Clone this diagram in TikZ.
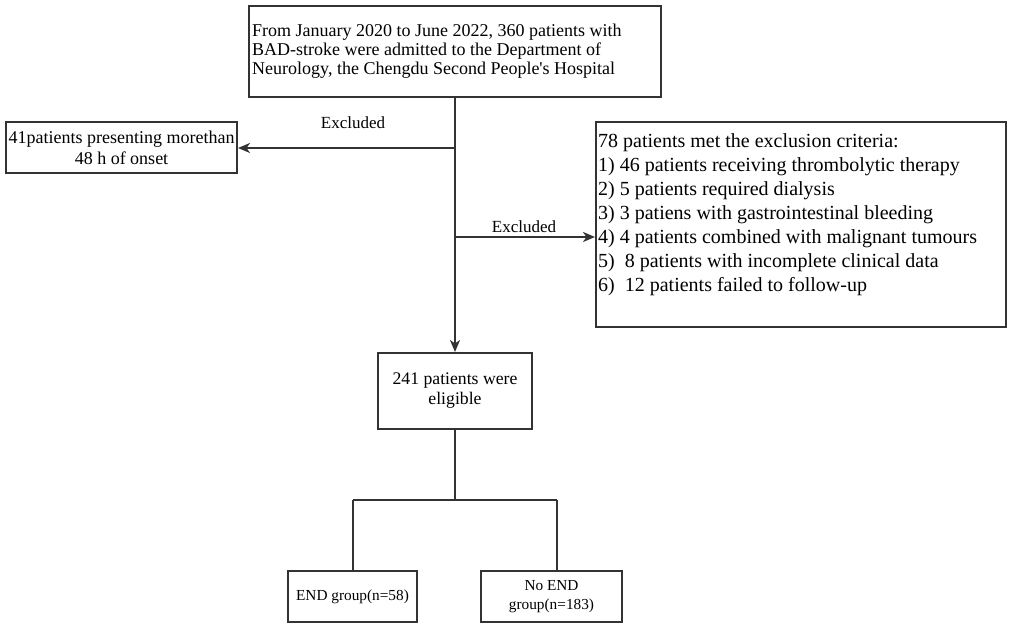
\documentclass[tikz,border=0pt]{standalone}
\usepackage{fontspec}
\setmainfont{Liberation Serif}
\newfontfamily\plainq{Liberation Serif}
\usetikzlibrary{arrows.meta}
\definecolor{linecol}{HTML}{333333}
\begin{document}
\begin{tikzpicture}[x=1pt,y=1pt,
  boxstyle/.style={draw=linecol,line width=2pt,rectangle,inner sep=0pt,fill=white},
  conn/.style={draw=linecol,line width=2pt},
  arr/.style={conn,-{Stealth[length=12pt,width=10pt,inset=3.5pt]}},
  txt/.style={inner sep=0pt,text=black}]
\useasboundingbox[fill=white] (0,0) rectangle (1013,628);
% boxes
\node[boxstyle,minimum width=412pt,minimum height=91pt] (top) at (455,576.5) {};
\node[txt,anchor=west,align=left,font=\fontsize{18}{19.2}\selectfont] (toptext) at (252,576.5)
  {From January 2020 to June 2022, 360 patients with\\BAD-stroke were admitted to the Department of\\Neurology, the Chengdu Second People{\plainq'}s Hospital};
\node[boxstyle,minimum width=231pt,minimum height=51pt,align=center,font=\fontsize{18}{21}\selectfont] (left) at (121.5,480.5)
  {41patients presenting morethan\\48 h of onset};
\node[boxstyle,minimum width=410pt,minimum height=205pt] (rbox) at (801,403.5) {};
\node[txt,anchor=west,align=left,font=\fontsize{20}{24}\selectfont] (rtext) at (598,413)
  {78 patients met the exclusion criteria:\\
   1) 46 patients receiving thrombolytic therapy\\
   2) 5 patients required dialysis\\
   3) 3 patiens with gastrointestinal bleeding\\
   4) 4 patients combined with malignant tumours\\
   5)\ \ 8 patients with incomplete clinical data\\
   6)\ \ 12 patients failed to follow-up};
\node[boxstyle,minimum width=154pt,minimum height=76pt,align=center,font=\fontsize{17.7}{20}\selectfont] (elig) at (455,237)
  {241 patients were\\eligible};
\node[boxstyle,minimum width=129pt,minimum height=51pt,align=center,font=\fontsize{15.3}{19}\selectfont] (endg) at (352.5,31.5)
  {END group(n=58)};
\node[boxstyle,minimum width=141pt,minimum height=51pt,align=center,font=\fontsize{15.3}{19}\selectfont] (noend) at (551.5,31.5)
  {No END\\group(n=183)};
% connectors
\coordinate (j1) at (455,480);
\coordinate (j2) at (455,391);
\coordinate (j3) at (455,128);
\coordinate (bl) at (353,128);
\coordinate (br) at (557,128);
\draw[arr] (top.south) -- (elig.north);
\draw[arr] (j1) -- (left.east |- j1);
\draw[arr] (j2) -- (rbox.west |- j2);
\draw[conn] (elig.south) -- (j3);
\draw[conn] (bl) -- (br);
\draw[conn] (bl) -- (bl |- endg.north);
\draw[conn] (br) -- (br |- noend.north);
\node[txt,font=\fontsize{17}{20}\selectfont] (ex1) at (353,505) {Excluded};
\node[txt,font=\fontsize{17}{20}\selectfont] (ex2) at (524,401) {Excluded};
\end{tikzpicture}
\end{document}
